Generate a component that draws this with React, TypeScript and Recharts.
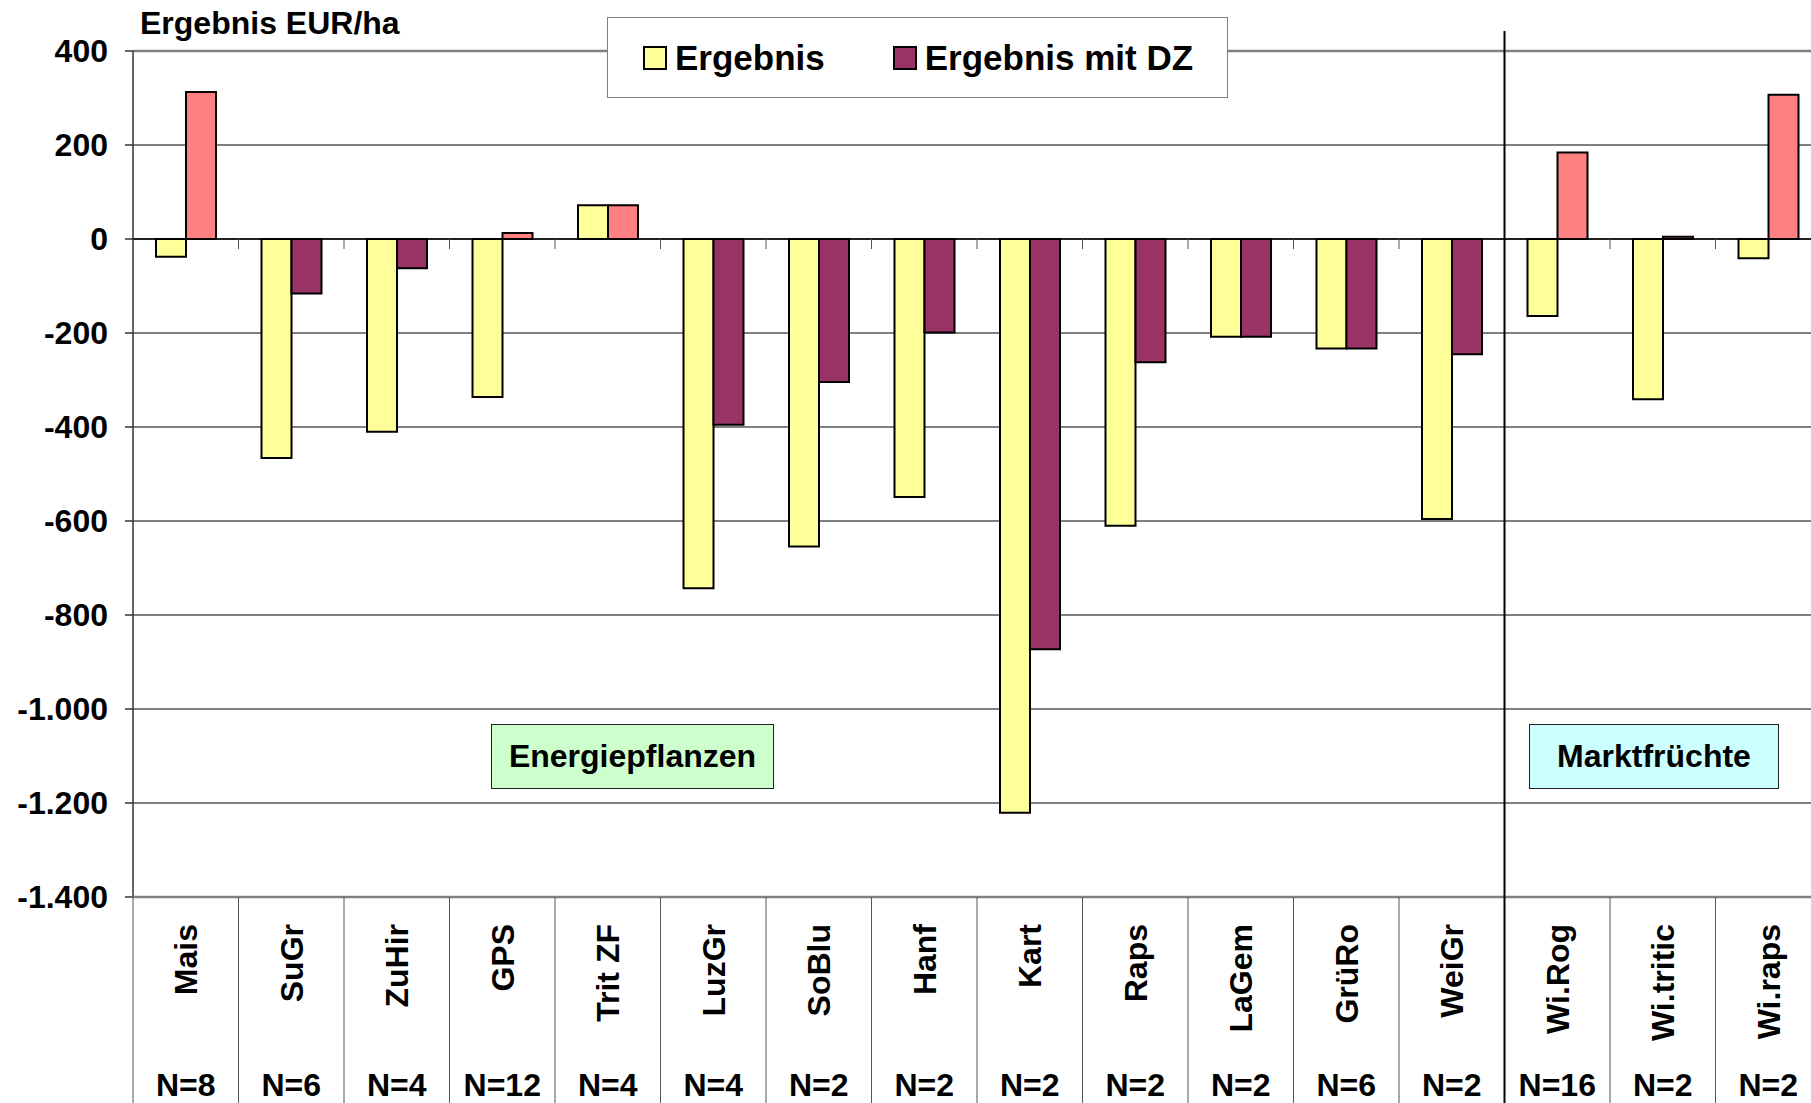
import React from 'react';
import {
  BarChart,
  Bar,
  Cell,
  XAxis,
  YAxis,
  CartesianGrid,
  ReferenceLine,
  Legend,
} from 'recharts';

// Categories, sample sizes and results (EUR/ha)
const crops = ['Mais', 'SuGr', 'ZuHir', 'GPS', 'Trit ZF', 'LuzGr', 'SoBlu', 'Hanf', 'Kart', 'Raps', 'LaGem', 'GrüRo', 'WeiGr', 'Wi.Rog', 'Wi.tritic', 'Wi.raps'];
const sampleSizes = ['N=8', 'N=6', 'N=4', 'N=12', 'N=4', 'N=4', 'N=2', 'N=2', 'N=2', 'N=2', 'N=2', 'N=6', 'N=2', 'N=16', 'N=2', 'N=2'];
const ergebnis = [-38, -466, -410, -336, 72, -743, -654, -549, -1221, -610, -208, -233, -596, -164, -341, -41];
const ergebnisDZ = [313, -116, -62, 13, 72, -395, -304, -199, -873, -262, -208, -233, -245, 184, 5, 307];
const yTicks = [400, 200, 0, -200, -400, -600, -800, -1000, -1200, -1400];
const marktStart = 13; // first crop of the "Marktfrüchte" group

const data = crops.map((name, i) => ({
  name,
  n: sampleSizes[i],
  ergebnis: ergebnis[i],
  dz: ergebnisDZ[i],
}));

const FONT = "'Liberation Sans', Arial, Helvetica, sans-serif";
const YELLOW = '#FFFF99';
const PURPLE = '#993366';
const SALMON = '#FF8080';

const CHART_W = 1840;
const CHART_H = 1140;
const MARGIN = { top: 51, right: 19, left: 0, bottom: 0 };
const Y_AXIS_W = 133;
const X_AXIS_H = 243;
const PLOT_W = CHART_W - MARGIN.left - MARGIN.right - Y_AXIS_W;
const PLOT_H = CHART_H - MARGIN.top - MARGIN.bottom - X_AXIS_H;
const BAND = PLOT_W / crops.length;

// German number format: -1.200
const formatY = (v: number) => {
  const s = Math.abs(v).toString().replace(/\B(?=(\d{3})+(?!\d))/g, '.');
  return v < 0 ? `-${s}` : s;
};

// Bottom "table": separators, rotated crop names, N labels
const CategoryTick = ({ x, y, payload, index }: any) => {
  const left = x - BAND / 2;
  return (
    <g>
      <line x1={left} y1={y} x2={left} y2={y + 260} stroke="#555" strokeWidth={1} />
      {index === marktStart && (
        <line x1={left} y1={y - PLOT_H - 20} x2={left} y2={y + 260} stroke="#000" strokeWidth={2} />
      )}
      <text
        x={x}
        y={y + 27}
        dy="0.36em"
        transform={`rotate(-90, ${x}, ${y + 27})`}
        textAnchor="end"
        fontFamily={FONT}
        fontWeight="bold"
        fontSize={32}
        fill="#000"
      >
        {payload.value}
      </text>
      <text
        x={x}
        y={y + 199}
        textAnchor="middle"
        fontFamily={FONT}
        fontWeight="bold"
        fontSize={32}
        fill="#000"
      >
        {data[index]?.n}
      </text>
    </g>
  );
};

// Zero line with small ticks at the category boundaries
const ZeroAxis = (props: any) => {
  const { x1, y1, x2 } = props;
  const band = (x2 - x1) / crops.length;
  return (
    <g>
      <line x1={x1} y1={y1} x2={x2} y2={y1} stroke="#000" strokeWidth={1.5} />
      {crops.slice(1).map((c, i) => (
        <line
          key={c}
          x1={x1 + (i + 1) * band}
          x2={x1 + (i + 1) * band}
          y1={y1}
          y2={y1 + 10}
          stroke="#555"
          strokeWidth={1}
        />
      ))}
    </g>
  );
};

const legendItems = [
  { label: 'Ergebnis', color: YELLOW },
  { label: 'Ergebnis mit DZ', color: PURPLE },
];

const renderLegend = () => (
  <div
    style={{
      display: 'flex',
      alignItems: 'center',
      height: '100%',
      boxSizing: 'border-box',
      border: '1.5px solid #808080',
      background: '#fff',
      paddingLeft: 35,
      fontFamily: FONT,
      fontWeight: 'bold',
      fontSize: 35,
    }}
  >
    {legendItems.map((item, i) => (
      <div key={item.label} style={{ display: 'flex', alignItems: 'center', marginRight: i === 0 ? 68 : 0 }}>
        <span
          style={{
            display: 'inline-block',
            width: 20,
            height: 20,
            background: item.color,
            border: '2px solid #000',
            marginRight: 8,
          }}
        />
        <span>{item.label}</span>
      </div>
    ))}
  </div>
);

const boxStyle = (bg: string): React.CSSProperties => ({
  position: 'absolute',
  top: 724,
  height: 65,
  boxSizing: 'border-box',
  border: '1.5px solid #222',
  background: bg,
  display: 'flex',
  alignItems: 'center',
  justifyContent: 'center',
  fontFamily: FONT,
  fontWeight: 'bold',
  fontSize: 32,
  color: '#000',
});

const App = () => {
  return (
    <div
      style={{
        position: 'absolute',
        left: 0,
        top: 0,
        width: 1811,
        height: 1103,
        overflow: 'hidden',
        background: '#fff',
      }}
    >
      <BarChart
        width={CHART_W}
        height={CHART_H}
        data={data}
        margin={MARGIN}
        barGap={0}
      >
        <CartesianGrid vertical={false} stroke="#000" strokeWidth={1} />
        <YAxis
          width={Y_AXIS_W}
          domain={[-1400, 400]}
          ticks={yTicks}
          interval={0}
          tickFormatter={formatY}
          tickSize={8}
          tickMargin={17}
          axisLine={{ stroke: '#333', strokeWidth: 1.5 }}
          tickLine={{ stroke: '#333', strokeWidth: 1.5 }}
          tick={{ fill: '#000', fontSize: 32, fontWeight: 'bold', fontFamily: FONT }}
        />
        <XAxis
          dataKey="name"
          height={X_AXIS_H}
          interval={0}
          tickSize={0}
          tickMargin={0}
          tickLine={false}
          axisLine={{ stroke: '#808080', strokeWidth: 2.5 }}
          tick={<CategoryTick />}
        />
        <ReferenceLine y={400} stroke="#808080" strokeWidth={2.5} />
        <ReferenceLine y={0} shape={ZeroAxis} />
        <Legend
          verticalAlign="middle"
          align="center"
          content={renderLegend}
          wrapperStyle={{ left: 607, top: 17, width: 621, height: 81 }}
        />
        <Bar dataKey="ergebnis" name="Ergebnis" fill={YELLOW} stroke="#000" strokeWidth={2} barSize={30} isAnimationActive={false} />
        <Bar dataKey="dz" name="Ergebnis mit DZ" fill={PURPLE} stroke="#000" strokeWidth={2} barSize={30} isAnimationActive={false}>
          {data.map((d) => (
            <Cell key={d.name} fill={d.dz > 0 ? SALMON : PURPLE} />
          ))}
        </Bar>
      </BarChart>
      <div
        style={{
          position: 'absolute',
          left: 140,
          top: 4,
          fontFamily: FONT,
          fontWeight: 'bold',
          fontSize: 32,
          color: '#000',
          lineHeight: '38px',
        }}
      >
        Ergebnis EUR/ha
      </div>
      <div style={{ ...boxStyle('#CCFFCC'), left: 491, width: 283 }}>Energiepflanzen</div>
      <div style={{ ...boxStyle('#CCFFFF'), left: 1529, width: 250 }}>Marktfrüchte</div>
    </div>
  );
};

export default App;
